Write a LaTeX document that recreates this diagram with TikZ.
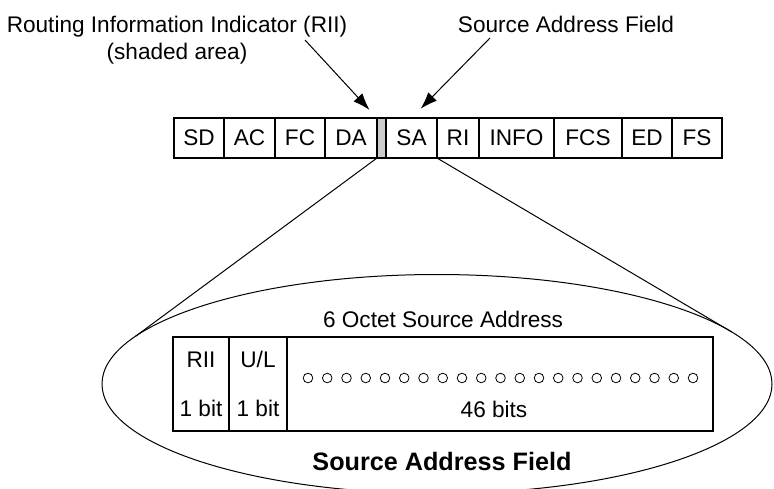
\documentclass[tikz,border=0pt]{standalone}
\usepackage{fontspec}
\setmainfont{Liberation Sans}
\usepackage{tikz}
\usetikzlibrary{arrows.meta,shapes.geometric}

\begin{document}
\begin{tikzpicture}[x=0.5pt, y=-0.5pt,
  font=\fontsize{11.3}{13.5}\selectfont,
  field/.style={draw, line width=0.6pt, inner sep=0pt, outer sep=0pt, minimum height=20pt},
  bitbox/.style={draw, line width=0.6pt, inner sep=0pt, outer sep=0pt, minimum height=47pt, align=center},
  pointer/.style={-{Latex[length=8.5pt,width=6pt]}, line width=0.5pt}]
\clip (0,0) rectangle (774,488);
\foreach \l/\r/\t/\n in {174/224/SD/sd, 224/275/AC/ac, 275/325/FC/fc, 325/377/DA/da,
    386/437/SA/sa, 437/479/RI/ri, 479/554/INFO/info, 554/622/FCS/fcs, 622/672/ED/ed, 672/722/FS/fs}
  \node[field, minimum width={(\r-\l)*0.5pt}] (\n) at ({(\l+\r)/2},138) {\t};
\node[field, fill=black!20, minimum width=4.5pt] (rii) at (381.5,138) {};

\node[align=center, anchor=north, inner sep=0pt] (riitext) at (177,15.5) {Routing Information Indicator (RII)\\(shaded area)};
\node[anchor=base] (satext) at (566,32) {Source Address Field};
\coordinate (riitail) at (305,40);
\coordinate (satail) at (490,38);
\draw[pointer, shorten >=5.5pt] (riitail) -- (rii.north west);
\draw[pointer, shorten >=6.5pt] (satail) -- (sa.north);

\node[draw, ellipse, line width=0.5pt, minimum width=335pt, minimum height=109.5pt, inner sep=0pt, outer sep=0pt] (safield) at (437,384) {};
\draw[line width=0.5pt] (rii.south west) -- (safield.171.77);
\draw[line width=0.5pt] (sa.south east) -- (safield.10.26);

\node[anchor=base] (octets) at (443,327) {6 Octet Source Address};
\node[bitbox, minimum width=28pt] (riibit) at (201,384) {RII\\[11pt]1 bit};
\node[bitbox, minimum width=29pt] (ulbit) at (258,384) {U/L\\[11pt]1 bit};
\node[bitbox, minimum width=213pt] (addr) at (500,384) {};
\foreach \i in {0,...,20}
  \draw[line width=0.4pt] ({308+19.25*\i},378) circle (2.4pt);
\node[anchor=base] (bits) at (494,417) {46 bits};
\node[anchor=base, font=\fontsize{12.6}{15}\selectfont\bfseries] (title) at (442,470) {Source Address Field};
\end{tikzpicture}
\end{document}
